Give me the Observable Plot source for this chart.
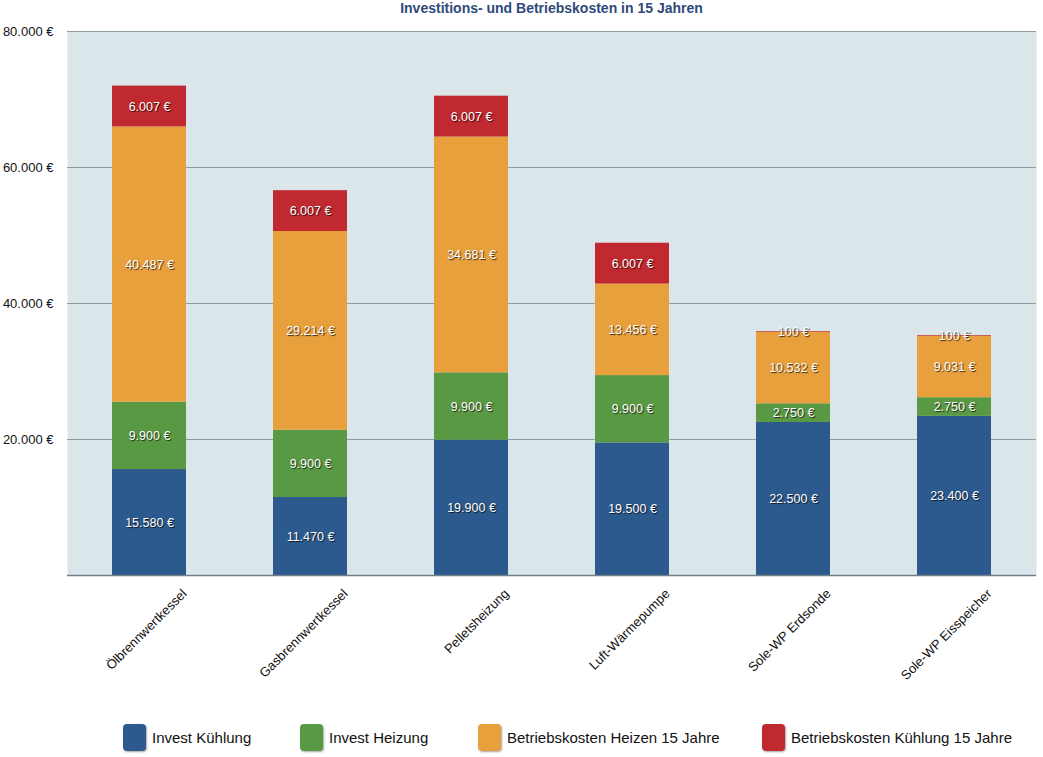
<!DOCTYPE html>
<html>
<head>
<meta charset="utf-8">
<script src="https://cdn.jsdelivr.net/npm/d3@7"></script>
<script src="https://cdn.jsdelivr.net/npm/@observablehq/plot@0.6"></script>
<style>
  html, body { margin: 0; padding: 0; background: #fff; }
  body { width: 1043px; height: 757px; position: relative; overflow: hidden; font-family: "Liberation Sans", Arial, sans-serif; }
  #title { position: absolute; left: 67px; top: 0; width: 969px; height: 18px; line-height: 17px; text-align: center; font-weight: bold; font-size: 14px; color: #2f4a7a; }
  #chart { position: absolute; left: 0; top: 18px; }
  .seglabel text { text-shadow: 1px 1px 1px rgba(0,0,0,0.75); }
  .legend-item { position: absolute; top: 723px; height: 28px; display: flex; align-items: center; font-size: 15px; color: #111; }
  .legend-item .sw { width: 23px; height: 27px; border-radius: 4px; margin-right: 6px; box-shadow: 1px 1px 2px rgba(0,0,0,0.35); }
</style>
</head>
<body>
<div id="title">Investitions- und Betriebskosten in 15 Jahren</div>
<div id="chart"></div>
<div id="legend"></div>
<script>
const categories = ["Ölbrennwertkessel", "Gasbrennwertkessel", "Pelletsheizung", "Luft-Wärmepumpe", "Sole-WP Erdsonde", "Sole-WP Eisspeicher"];
const seriesNames = ["Invest Kühlung", "Invest Heizung", "Betriebskosten Heizen 15 Jahre", "Betriebskosten Kühlung 15 Jahre"];
const seriesColors = ["#2c5a8f", "#5a9944", "#e8a03c", "#c0292f"];
const investKuehlung = [15580, 11470, 19900, 19500, 22500, 23400];
const investHeizung = [9900, 9900, 9900, 9900, 2750, 2750];
const betriebHeizen = [40487, 29214, 34681, 13456, 10532, 9031];
const betriebKuehlung = [6007, 6007, 6007, 6007, 100, 100];
const yTicks = [20000, 40000, 60000, 80000];
const legendLeft = [123, 300, 478, 762];

const seriesValues = [investKuehlung, investHeizung, betriebHeizen, betriebKuehlung];
const data = [];
categories.forEach((cat, i) => {
  seriesNames.forEach((s, j) => {
    data.push({cat, series: s, value: seriesValues[j][i]});
  });
});

const fmt = v => d3.format(",")(v).replace(/,/g, ".") + " €";

const chart = Plot.plot({
  width: 1043,
  height: 680,
  marginLeft: 67,
  marginRight: 7,
  marginTop: 13,
  marginBottom: 123,
  style: {fontFamily: "'Liberation Sans', Arial, sans-serif", fontSize: "12px", background: "transparent"},
  x: {domain: categories, paddingInner: 0.54, paddingOuter: 0.27, axis: null},
  y: {domain: [0, 80000], axis: null},
  color: {domain: seriesNames, range: seriesColors},
  marks: [
    Plot.frame({fill: "#dbe6ea", stroke: null}),
    Plot.ruleY(yTicks, {stroke: "#8d9ca3", strokeWidth: 1}),
    Plot.barY(data, {x: "cat", y: "value", fill: "series"}),
    Plot.ruleY([0], {stroke: "#6f8089", strokeWidth: 1.5}),
    Plot.text(data, Plot.stackY({x: "cat", y: "value", z: "series", text: d => fmt(d.value), fill: "white", fontSize: 12.5, className: "seglabel"})),
    Plot.text(yTicks, {x: null, y: d => d, text: d => fmt(d), frameAnchor: "left", textAnchor: "end", dx: -14, fill: "#111", fontSize: 13}),
    Plot.text(categories, {x: d => d, text: d => d, frameAnchor: "bottom", rotate: -45, textAnchor: "end", dx: 38, dy: 19, fill: "#111", fontSize: 13})
  ]
});
document.getElementById("chart").appendChild(chart);

const legend = document.getElementById("legend");
seriesNames.forEach((s, j) => {
  const item = document.createElement("div");
  item.className = "legend-item";
  item.style.left = legendLeft[j] + "px";
  const sw = document.createElement("div");
  sw.className = "sw";
  sw.style.background = seriesColors[j];
  const t = document.createElement("span");
  t.textContent = s;
  item.appendChild(sw);
  item.appendChild(t);
  legend.appendChild(item);
});
</script>
</body>
</html>
